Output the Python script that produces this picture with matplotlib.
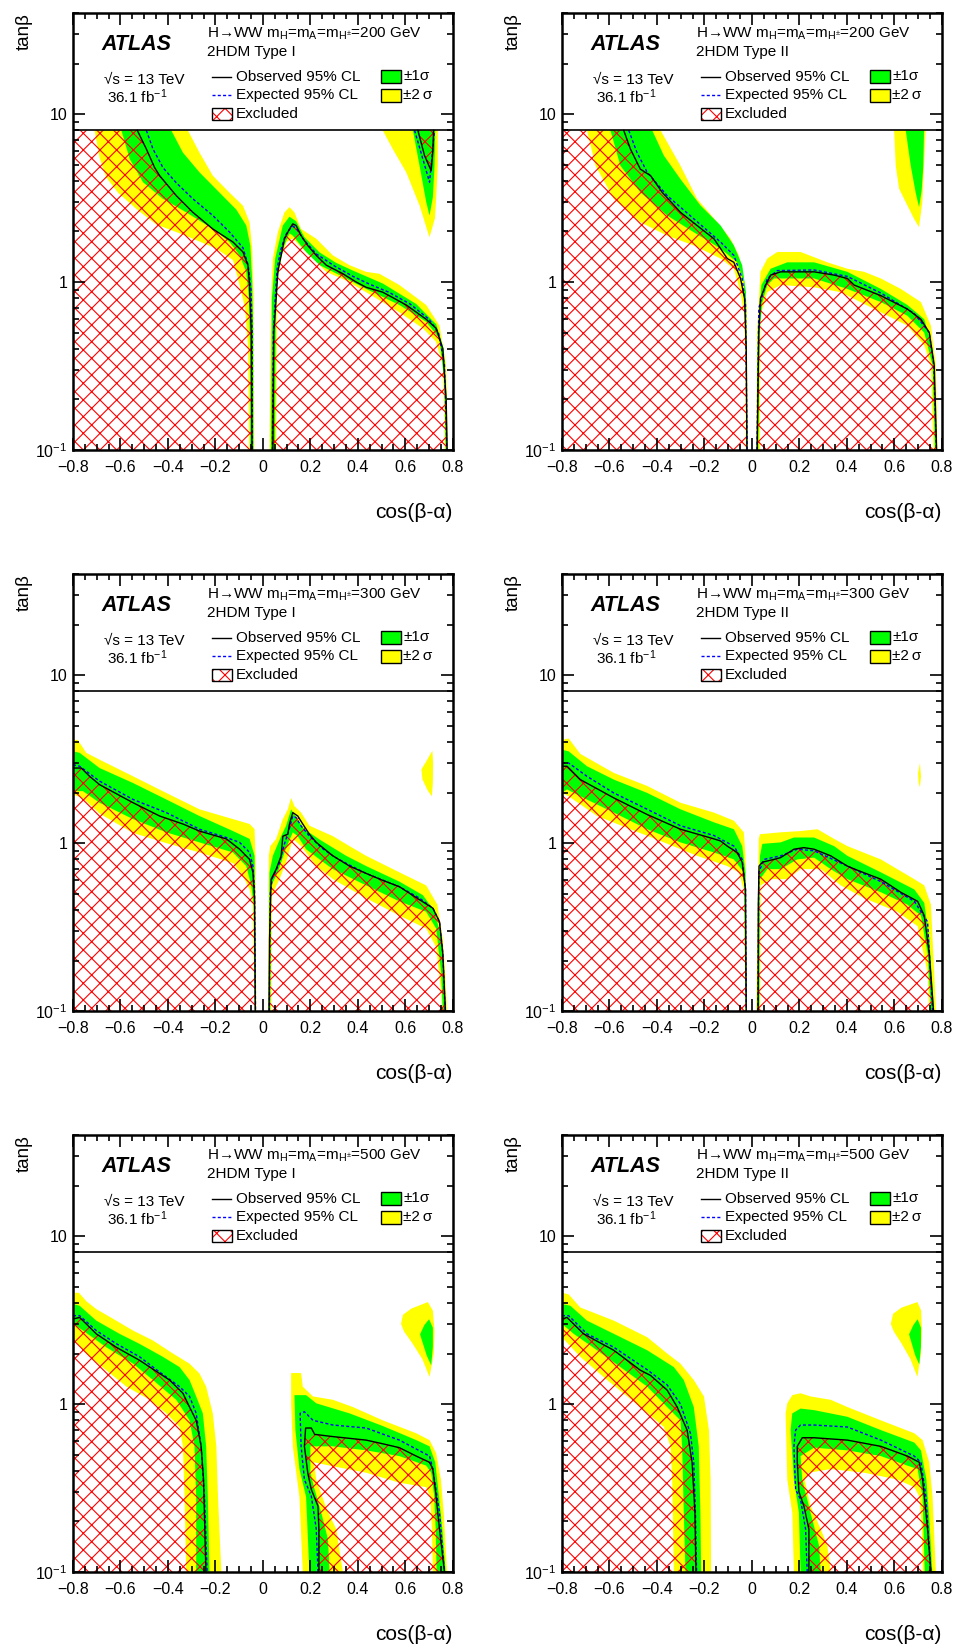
import numpy as np
import matplotlib
matplotlib.use('Agg')
import matplotlib.pyplot as plt
from matplotlib.patches import Rectangle
from matplotlib.lines import Line2D
from matplotlib.ticker import MultipleLocator, FixedLocator, LogLocator, FuncFormatter, NullFormatter

plt.rcParams['font.family'] = ['Liberation Sans', 'DejaVu Sans']
plt.rcParams['mathtext.fontset'] = 'custom'
plt.rcParams['mathtext.rm'] = 'Liberation Sans'
plt.rcParams['mathtext.it'] = 'Liberation Sans:italic'
plt.rcParams['mathtext.bf'] = 'Liberation Sans:bold'
plt.rcParams['hatch.linewidth'] = 0.8

# ---- data: boundaries as (cos(b-a), tan b) points ----
# ylo/glo = inner edge of 2sigma/1sigma band, yhi/ghi = outer edge

# 200 GeV, Type I
a_L_ylo = [(-0.709,8),(-0.688,5.5),(-0.660,4.2),(-0.610,3.4),(-0.530,2.7),(-0.449,2.2),(-0.33,1.9),(-0.196,1.58),(-0.126,1.35),(-0.105,1.05),(-0.075,0.7),(-0.062,0.4),(-0.058,0.1)]
a_L_glo = [(-0.596,8),(-0.561,5.4),(-0.505,3.93),(-0.421,3.13),(-0.323,2.6),(-0.211,2.07),(-0.140,1.73),(-0.098,1.44),(-0.070,1.15),(-0.059,0.8),(-0.054,0.4),(-0.053,0.1)]
a_L_obs = [(-0.529,8),(-0.491,6.2),(-0.456,4.8),(-0.435,4.3),(-0.365,3.27),(-0.295,2.6),(-0.211,2.07),(-0.126,1.73),(-0.084,1.51),(-0.063,1.26),(-0.056,0.95),(-0.049,0.5),(-0.046,0.1)]
a_L_exp = [(-0.491,8),(-0.463,6.2),(-0.421,4.8),(-0.365,3.9),(-0.295,3.13),(-0.211,2.49),(-0.140,1.98),(-0.084,1.6),(-0.062,1.26),(-0.050,0.9),(-0.045,0.5),(-0.044,0.1)]
a_L_ghi = [(-0.386,8),(-0.337,5.9),(-0.267,4.5),(-0.182,3.4),(-0.112,2.7),(-0.070,2.17),(-0.053,1.65),(-0.045,1.0),(-0.041,0.5),(-0.040,0.1)]
a_L_yhi = [(-0.316,8),(-0.267,5.9),(-0.211,4.3),(-0.140,3.4),(-0.084,2.85),(-0.056,2.27),(-0.045,1.58),(-0.039,0.8),(-0.036,0.1)]
a_R_yhi = [(0.028,0.1),(0.035,0.8),(0.042,1.38),(0.063,1.98),(0.091,2.6),(0.112,2.79),(0.133,2.6),(0.161,2.07),(0.225,1.81),(0.295,1.44),(0.365,1.26),(0.435,1.15),(0.491,1.12),(0.575,0.96),(0.688,0.73),(0.744,0.55),(0.772,0.32),(0.780,0.1)]
a_R_ghi = [(0.034,0.1),(0.038,0.8),(0.052,1.38),(0.084,2.17),(0.112,2.45),(0.140,2.3),(0.175,1.85),(0.239,1.5),(0.309,1.3),(0.379,1.17),(0.505,0.98),(0.646,0.74),(0.730,0.56),(0.762,0.4),(0.774,0.2),(0.778,0.1)]
a_R_obs = [(0.042,0.1),(0.046,0.5),(0.056,0.8),(0.063,1.15),(0.077,1.44),(0.091,1.81),(0.112,2.07),(0.126,2.22),(0.140,2.17),(0.161,1.89),(0.189,1.65),(0.225,1.44),(0.267,1.26),(0.337,1.12),(0.393,1.0),(0.435,0.93),(0.505,0.87),(0.604,0.73),(0.688,0.6),(0.730,0.53),(0.758,0.4),(0.772,0.2),(0.776,0.1)]
a_R_exp = [(0.040,0.1),(0.044,0.5),(0.052,0.8),(0.060,1.2),(0.075,1.55),(0.095,1.9),(0.115,2.08),(0.128,2.15),(0.145,2.05),(0.170,1.8),(0.225,1.47),(0.300,1.25),(0.380,1.08),(0.450,0.97),(0.530,0.87),(0.620,0.74),(0.700,0.6),(0.740,0.5),(0.765,0.32),(0.775,0.1)]
a_R_glo = [(0.050,0.1),(0.055,0.8),(0.068,1.26),(0.090,1.65),(0.112,1.95),(0.126,1.89),(0.182,1.51),(0.239,1.26),(0.323,1.1),(0.435,0.91),(0.575,0.73),(0.688,0.58),(0.744,0.46),(0.765,0.25),(0.770,0.1)]
a_R_ylo = [(0.056,0.1),(0.060,1.0),(0.080,1.44),(0.100,1.73),(0.126,1.82),(0.154,1.65),(0.211,1.38),(0.267,1.15),(0.351,1.02),(0.435,0.87),(0.575,0.66),(0.674,0.53),(0.730,0.44),(0.758,0.32),(0.767,0.1)]
a_isl_y = [(0.505,8),(0.547,6.2),(0.604,4.5),(0.660,2.86),(0.695,1.98),(0.702,1.85),(0.725,2.4),(0.730,3.13),(0.737,5.0),(0.737,8)]
a_isl_g = [(0.632,8),(0.660,4.93),(0.688,3.0),(0.702,2.49),(0.716,3.2),(0.723,4.9),(0.726,8)]
a_isl_obs = [(0.653,8),(0.681,5.66),(0.709,4.6),(0.716,6.0),(0.719,8)]
a_isl_exp = [(0.639,8),(0.674,5.4),(0.702,3.93),(0.712,5.5),(0.723,8)]

# 200 GeV, Type II
b_L_ylo = [(-0.695,8),(-0.659,4.93),(-0.582,3.13),(-0.470,2.27),(-0.357,1.89),(-0.245,1.65),(-0.132,1.38),(-0.076,1.2),(-0.048,0.87),(-0.034,0.66),(-0.027,0.32),(-0.026,0.1)]
b_L_glo = [(-0.596,8),(-0.554,4.93),(-0.470,3.42),(-0.357,2.49),(-0.245,1.98),(-0.132,1.58),(-0.062,1.31),(-0.034,1.0),(-0.025,0.5),(-0.023,0.1)]
b_L_obs = [(-0.540,8),(-0.512,6.2),(-0.470,4.7),(-0.427,4.3),(-0.378,3.42),(-0.301,2.6),(-0.231,2.17),(-0.160,1.81),(-0.104,1.38),(-0.076,1.31),(-0.048,1.05),(-0.031,0.8),(-0.024,0.4),(-0.021,0.1)]
b_L_exp = [(-0.519,8),(-0.484,5.9),(-0.441,4.5),(-0.357,3.27),(-0.245,2.38),(-0.132,1.73),(-0.076,1.44),(-0.041,1.05),(-0.027,0.73),(-0.020,0.1)]
b_L_ghi = [(-0.420,8),(-0.371,5.66),(-0.301,4.1),(-0.217,2.86),(-0.132,2.17),(-0.076,1.65),(-0.041,1.26),(-0.025,0.87),(-0.019,0.1)]
b_L_yhi = [(-0.385,8),(-0.301,4.93),(-0.231,3.13),(-0.146,2.27),(-0.090,1.81),(-0.055,1.44),(-0.034,1.05),(-0.022,0.73),(-0.017,0.1)]
b_R_yhi = [(0.017,0.1),(0.022,0.5),(0.036,1.15),(0.065,1.38),(0.107,1.51),(0.205,1.51),(0.318,1.31),(0.402,1.2),(0.473,1.15),(0.543,1.05),(0.627,0.91),(0.712,0.76),(0.754,0.55),(0.775,0.32),(0.782,0.1)]
b_R_ghi = [(0.020,0.1),(0.025,0.5),(0.040,0.96),(0.079,1.2),(0.149,1.31),(0.262,1.31),(0.402,1.15),(0.543,0.91),(0.655,0.73),(0.726,0.6),(0.761,0.4),(0.780,0.1)]
b_R_obs = [(0.022,0.1),(0.029,0.5),(0.036,0.8),(0.058,0.96),(0.079,1.1),(0.121,1.15),(0.262,1.15),(0.346,1.1),(0.402,1.05),(0.430,0.96),(0.543,0.83),(0.655,0.69),(0.712,0.6),(0.747,0.5),(0.768,0.32),(0.778,0.1)]
b_R_exp = [(0.021,0.1),(0.029,0.7),(0.065,1.05),(0.107,1.17),(0.262,1.18),(0.402,1.08),(0.543,0.86),(0.684,0.65),(0.747,0.5),(0.766,0.32),(0.777,0.1)]
b_R_glo = [(0.027,0.1),(0.032,0.5),(0.044,0.76),(0.065,0.96),(0.093,1.05),(0.262,1.05),(0.402,0.91),(0.543,0.76),(0.655,0.63),(0.726,0.5),(0.761,0.32),(0.771,0.1)]
b_R_ylo = [(0.033,0.1),(0.036,0.63),(0.065,0.87),(0.121,0.96),(0.262,0.93),(0.374,0.87),(0.543,0.66),(0.655,0.55),(0.726,0.42),(0.754,0.32),(0.765,0.1)]
b_isl_y = [(0.599,8),(0.606,4.93),(0.620,3.6),(0.641,3.13),(0.683,2.38),(0.704,2.12),(0.718,3.0),(0.725,4.93),(0.732,8)]
b_isl_g = [(0.648,8),(0.669,4.93),(0.690,3.4),(0.704,2.79),(0.715,3.5),(0.722,4.93),(0.725,8)]

# 300 GeV, Type I
c_L_yhi = [(-0.8,4.12),(-0.78,4.12),(-0.744,3.45),(-0.688,3.14),(-0.547,2.5),(-0.407,1.99),(-0.267,1.59),(-0.126,1.39),(-0.056,1.30),(-0.035,1.21),(-0.031,0.84),(-0.028,0.1)]
c_L_ghi = [(-0.8,3.52),(-0.772,3.45),(-0.688,2.8),(-0.547,2.28),(-0.407,1.82),(-0.267,1.45),(-0.126,1.18),(-0.056,1.06),(-0.035,0.84),(-0.030,0.1)]
c_L_exp = [(-0.8,2.93),(-0.772,2.87),(-0.688,2.34),(-0.547,1.82),(-0.407,1.52),(-0.267,1.21),(-0.154,1.08),(-0.098,1.01),(-0.056,0.88),(-0.042,0.73),(-0.035,0.53),(-0.031,0.1)]
c_L_obs = [(-0.8,2.8),(-0.765,2.8),(-0.730,2.5),(-0.688,2.23),(-0.547,1.74),(-0.435,1.45),(-0.337,1.30),(-0.267,1.18),(-0.154,1.06),(-0.098,0.92),(-0.056,0.8),(-0.042,0.67),(-0.035,0.47),(-0.032,0.1)]
c_L_glo = [(-0.8,2.04),(-0.758,2.04),(-0.688,1.74),(-0.547,1.39),(-0.407,1.16),(-0.267,1.01),(-0.126,0.88),(-0.070,0.73),(-0.049,0.56),(-0.039,0.43),(-0.034,0.1)]
c_L_ylo = [(-0.8,1.95),(-0.758,1.85),(-0.688,1.5),(-0.547,1.15),(-0.407,1.0),(-0.267,0.88),(-0.126,0.76),(-0.084,0.64),(-0.056,0.53),(-0.042,0.43),(-0.036,0.1)]
c_R_yhi = [(0.021,0.1),(0.025,0.84),(0.031,0.96),(0.056,1.06),(0.084,1.39),(0.105,1.59),(0.119,1.86),(0.133,1.66),(0.161,1.52),(0.196,1.27),(0.295,1.1),(0.365,0.96),(0.435,0.84),(0.575,0.67),(0.688,0.56),(0.735,0.43),(0.758,0.27),(0.768,0.17),(0.776,0.1)]
c_R_ghi = [(0.024,0.1),(0.028,0.67),(0.042,0.84),(0.077,1.1),(0.098,1.27),(0.119,1.59),(0.140,1.42),(0.175,1.21),(0.239,1.05),(0.351,0.84),(0.435,0.73),(0.575,0.59),(0.674,0.49),(0.724,0.39),(0.752,0.27),(0.771,0.1)]
c_R_obs = [(0.026,0.1),(0.028,0.27),(0.035,0.61),(0.056,0.70),(0.077,0.84),(0.084,1.1),(0.105,1.13),(0.112,1.3),(0.126,1.52),(0.147,1.45),(0.168,1.30),(0.196,1.13),(0.225,1.01),(0.295,0.84),(0.365,0.73),(0.435,0.66),(0.505,0.6),(0.575,0.55),(0.660,0.46),(0.716,0.41),(0.744,0.34),(0.758,0.22),(0.769,0.1)]
c_R_exp = [(0.027,0.1),(0.031,0.5),(0.040,0.62),(0.070,0.76),(0.090,0.98),(0.110,1.2),(0.126,1.45),(0.140,1.42),(0.160,1.27),(0.196,1.1),(0.250,0.93),(0.300,0.83),(0.365,0.74),(0.435,0.66),(0.575,0.55),(0.660,0.47),(0.716,0.41),(0.744,0.34),(0.758,0.22),(0.768,0.1)]
c_R_glo = [(0.031,0.1),(0.035,0.56),(0.063,0.67),(0.091,0.88),(0.126,1.16),(0.147,1.1),(0.182,0.92),(0.239,0.8),(0.295,0.70),(0.435,0.56),(0.575,0.45),(0.688,0.39),(0.730,0.31),(0.751,0.17),(0.758,0.1)]
c_R_ylo = [(0.035,0.1),(0.039,0.49),(0.070,0.61),(0.098,0.77),(0.126,1.06),(0.161,0.96),(0.225,0.73),(0.295,0.61),(0.435,0.47),(0.575,0.37),(0.688,0.31),(0.730,0.24),(0.751,0.13),(0.755,0.1)]
c_isl_y = [(0.714,3.55),(0.690,3.1),(0.668,2.75),(0.672,2.4),(0.695,2.05),(0.712,1.9),(0.716,2.3),(0.717,3.0)]

# 300 GeV, Type II
d_L_yhi = [(-0.8,4.12),(-0.772,4.2),(-0.723,3.4),(-0.582,2.62),(-0.441,2.19),(-0.301,1.74),(-0.160,1.52),(-0.076,1.36),(-0.034,1.16),(-0.027,0.84),(-0.022,0.1)]
d_L_ghi = [(-0.8,3.6),(-0.772,3.52),(-0.695,2.87),(-0.582,2.39),(-0.441,1.99),(-0.301,1.59),(-0.160,1.33),(-0.076,1.21),(-0.041,0.96),(-0.027,0.67),(-0.023,0.1)]
d_L_exp = [(-0.8,3.0),(-0.772,3.0),(-0.695,2.5),(-0.582,1.99),(-0.441,1.59),(-0.301,1.27),(-0.160,1.11),(-0.076,0.96),(-0.041,0.8),(-0.027,0.53),(-0.024,0.1)]
d_L_obs = [(-0.8,2.87),(-0.779,2.87),(-0.723,2.39),(-0.582,1.86),(-0.441,1.48),(-0.301,1.21),(-0.160,1.06),(-0.132,1.03),(-0.104,0.96),(-0.062,0.88),(-0.041,0.77),(-0.027,0.53),(-0.024,0.1)]
d_L_glo = [(-0.8,1.99),(-0.779,2.09),(-0.723,1.9),(-0.582,1.52),(-0.441,1.21),(-0.301,1.01),(-0.160,0.88),(-0.076,0.80),(-0.034,0.67),(-0.026,0.1)]
d_L_ylo = [(-0.8,1.99),(-0.772,1.9),(-0.652,1.45),(-0.512,1.21),(-0.371,1.01),(-0.231,0.84),(-0.104,0.73),(-0.055,0.67),(-0.034,0.53),(-0.028,0.1)]
d_R_yhi = [(0.018,0.1),(0.029,1.06),(0.034,1.13),(0.121,1.16),(0.205,1.18),(0.276,1.21),(0.346,1.06),(0.402,0.96),(0.543,0.8),(0.684,0.61),(0.726,0.56),(0.754,0.43),(0.768,0.17),(0.775,0.1)]
d_R_ghi = [(0.023,0.1),(0.034,0.84),(0.044,0.99),(0.121,1.01),(0.177,1.08),(0.262,1.08),(0.346,0.96),(0.402,0.84),(0.543,0.67),(0.684,0.53),(0.726,0.44),(0.747,0.27),(0.768,0.1)]
d_R_obs = [(0.026,0.1),(0.027,0.43),(0.030,0.73),(0.044,0.77),(0.093,0.8),(0.121,0.82),(0.177,0.92),(0.219,0.94),(0.262,0.92),(0.332,0.84),(0.402,0.73),(0.444,0.69),(0.543,0.61),(0.627,0.51),(0.698,0.45),(0.726,0.37),(0.747,0.22),(0.765,0.1)]
d_R_exp = [(0.025,0.1),(0.029,0.67),(0.051,0.8),(0.121,0.84),(0.191,0.92),(0.262,0.9),(0.402,0.73),(0.543,0.59),(0.684,0.45),(0.740,0.34),(0.761,0.1)]
d_R_glo = [(0.031,0.1),(0.034,0.61),(0.065,0.70),(0.121,0.70),(0.191,0.8),(0.262,0.82),(0.332,0.70),(0.402,0.61),(0.543,0.51),(0.655,0.43),(0.712,0.37),(0.740,0.22),(0.754,0.1)]
d_R_ylo = [(0.035,0.1),(0.037,0.56),(0.079,0.61),(0.149,0.61),(0.205,0.70),(0.290,0.70),(0.374,0.56),(0.473,0.47),(0.613,0.39),(0.698,0.32),(0.740,0.17),(0.747,0.1)]
d_isl_y = [(0.708,3.0),(0.700,2.6),(0.702,2.3),(0.708,2.15),(0.712,2.5)]

# 500 GeV, Type I
e_L_yhi = [(-0.8,4.6),(-0.775,4.6),(-0.744,4.1),(-0.702,3.68),(-0.618,3.14),(-0.547,2.74),(-0.463,2.39),(-0.379,2.0),(-0.309,1.74),(-0.267,1.52),(-0.239,1.27),(-0.211,0.88),(-0.196,0.56),(-0.189,0.28),(-0.175,0.1)]
e_L_ghi = [(-0.8,3.94),(-0.772,3.85),(-0.702,3.14),(-0.604,2.62),(-0.519,2.28),(-0.421,1.91),(-0.351,1.66),(-0.309,1.39),(-0.281,1.11),(-0.253,0.88),(-0.239,0.56),(-0.232,0.28),(-0.225,0.1)]
e_L_exp = [(-0.8,3.36),(-0.772,3.36),(-0.702,2.74),(-0.618,2.29),(-0.519,1.91),(-0.435,1.55),(-0.351,1.27),(-0.309,1.11),(-0.281,0.88),(-0.260,0.56),(-0.246,0.28),(-0.235,0.1)]
e_L_obs = [(-0.8,3.21),(-0.772,3.28),(-0.744,3.0),(-0.702,2.62),(-0.618,2.18),(-0.519,1.82),(-0.435,1.52),(-0.393,1.39),(-0.337,1.16),(-0.309,0.96),(-0.281,0.80),(-0.260,0.56),(-0.250,0.355),(-0.240,0.1)]
e_L_glo = [(-0.8,3.0),(-0.758,2.74),(-0.660,2.18),(-0.547,1.74),(-0.463,1.39),(-0.365,1.06),(-0.309,0.80),(-0.288,0.56),(-0.281,0.28),(-0.281,0.1)]
e_L_ylo = [(-0.8,2.5),(-0.779,2.28),(-0.744,2.0),(-0.660,1.59),(-0.575,1.27),(-0.477,1.06),(-0.407,0.88),(-0.351,0.73),(-0.337,0.56),(-0.330,0.28),(-0.323,0.1)]
e_R_yhi = [(0.168,0.1),(0.154,0.28),(0.126,0.56),(0.119,1.0),(0.119,1.53),(0.161,1.53),(0.168,1.27),(0.211,1.11),(0.295,1.06),(0.379,0.96),(0.505,0.80),(0.646,0.67),(0.702,0.61),(0.730,0.51),(0.750,0.355),(0.762,0.225),(0.776,0.1)]
e_R_ghi = [(0.196,0.1),(0.182,0.28),(0.154,0.41),(0.137,0.70),(0.133,1.13),(0.182,1.13),(0.225,1.01),(0.365,0.88),(0.505,0.74),(0.646,0.61),(0.702,0.56),(0.726,0.45),(0.742,0.28),(0.756,0.18),(0.770,0.1)]
e_R_obs = [(0.236,0.1),(0.236,0.18),(0.232,0.247),(0.204,0.31),(0.189,0.39),(0.175,0.56),(0.180,0.72),(0.204,0.72),(0.218,0.66),(0.295,0.64),(0.435,0.61),(0.505,0.58),(0.575,0.55),(0.646,0.49),(0.702,0.45),(0.716,0.41),(0.730,0.28),(0.744,0.18),(0.765,0.1)]
e_R_exp = [(0.232,0.1),(0.225,0.18),(0.204,0.283),(0.175,0.355),(0.161,0.56),(0.157,0.88),(0.175,0.90),(0.211,0.80),(0.295,0.75),(0.435,0.72),(0.575,0.61),(0.702,0.49),(0.716,0.41),(0.744,0.225),(0.765,0.1)]
e_R_glo = [(0.281,0.1),(0.274,0.157),(0.246,0.225),(0.218,0.31),(0.200,0.39),(0.200,0.56),(0.295,0.56),(0.435,0.53),(0.575,0.49),(0.688,0.43),(0.709,0.39),(0.722,0.28),(0.728,0.18),(0.732,0.1)]
e_R_ylo = [(0.337,0.1),(0.309,0.18),(0.267,0.24),(0.225,0.355),(0.215,0.45),(0.281,0.43),(0.435,0.39),(0.575,0.34),(0.688,0.32),(0.705,0.28),(0.712,0.18),(0.716,0.1)]
e_isl_y = [(0.582,3.0),(0.590,3.4),(0.625,3.7),(0.695,4.05),(0.716,3.6),(0.723,2.74),(0.720,2.0),(0.702,1.45),(0.672,1.85),(0.630,2.3),(0.595,2.7)]
e_isl_g = [(0.662,2.6),(0.680,2.95),(0.700,3.2),(0.716,2.85),(0.716,2.2),(0.709,1.7),(0.690,1.95)]

# 500 GeV, Type II
f_L_yhi = [(-0.8,4.6),(-0.772,4.5),(-0.723,3.76),(-0.582,3.14),(-0.441,2.5),(-0.357,2.0),(-0.301,1.74),(-0.245,1.39),(-0.202,1.11),(-0.181,0.70),(-0.174,0.355),(-0.172,0.1)]
f_L_ghi = [(-0.8,3.94),(-0.765,3.85),(-0.695,3.14),(-0.582,2.62),(-0.441,2.09),(-0.329,1.66),(-0.287,1.39),(-0.245,0.96),(-0.224,0.56),(-0.217,0.225),(-0.214,0.1)]
f_L_exp = [(-0.8,3.36),(-0.772,3.36),(-0.695,2.62),(-0.582,2.18),(-0.441,1.6),(-0.357,1.3),(-0.301,1.0),(-0.259,0.67),(-0.245,0.45),(-0.238,0.225),(-0.233,0.1)]
f_L_obs = [(-0.8,3.21),(-0.779,3.28),(-0.709,2.62),(-0.582,2.09),(-0.470,1.59),(-0.427,1.48),(-0.357,1.21),(-0.315,0.96),(-0.273,0.70),(-0.252,0.45),(-0.240,0.225),(-0.236,0.1)]
f_L_glo = [(-0.8,3.0),(-0.751,2.62),(-0.652,2.09),(-0.554,1.66),(-0.441,1.27),(-0.357,0.96),(-0.301,0.80),(-0.294,0.56),(-0.287,0.225),(-0.280,0.1)]
f_L_ylo = [(-0.8,2.5),(-0.723,1.91),(-0.610,1.39),(-0.470,0.96),(-0.371,0.73),(-0.343,0.56),(-0.336,0.355),(-0.329,0.1)]
f_R_yhi = [(0.177,0.1),(0.170,0.225),(0.149,0.355),(0.142,0.88),(0.149,1.01),(0.170,1.13),(0.205,1.16),(0.247,1.11),(0.332,1.06),(0.402,0.96),(0.543,0.80),(0.684,0.67),(0.719,0.61),(0.747,0.45),(0.761,0.28),(0.775,0.1)]
f_R_ghi = [(0.205,0.1),(0.198,0.225),(0.177,0.355),(0.163,0.70),(0.170,0.88),(0.205,0.94),(0.262,0.92),(0.402,0.84),(0.543,0.70),(0.684,0.59),(0.712,0.53),(0.735,0.355),(0.748,0.2),(0.760,0.1)]
f_R_obs = [(0.240,0.1),(0.240,0.18),(0.219,0.247),(0.198,0.3),(0.191,0.45),(0.191,0.56),(0.212,0.63),(0.262,0.63),(0.402,0.61),(0.543,0.56),(0.655,0.49),(0.705,0.45),(0.719,0.355),(0.740,0.18),(0.754,0.1)]
f_R_exp = [(0.233,0.1),(0.226,0.18),(0.205,0.27),(0.184,0.31),(0.177,0.56),(0.184,0.70),(0.205,0.75),(0.262,0.75),(0.402,0.73),(0.543,0.61),(0.684,0.49),(0.712,0.45),(0.733,0.28),(0.754,0.1)]
f_R_glo = [(0.290,0.1),(0.283,0.143),(0.247,0.225),(0.212,0.355),(0.205,0.49),(0.262,0.55),(0.402,0.53),(0.543,0.49),(0.655,0.43),(0.698,0.41),(0.719,0.28),(0.728,0.1)]
f_R_ylo = [(0.332,0.1),(0.318,0.143),(0.290,0.18),(0.247,0.247),(0.222,0.355),(0.240,0.39),(0.332,0.41),(0.473,0.39),(0.613,0.355),(0.684,0.32),(0.706,0.28),(0.716,0.18),(0.720,0.1)]
f_isl_y = [(0.585,3.0),(0.595,3.45),(0.630,3.75),(0.697,4.05),(0.713,3.6),(0.716,2.74),(0.712,2.0),(0.697,1.45),(0.668,1.85),(0.630,2.3),(0.598,2.7)]
f_isl_g = [(0.662,2.6),(0.680,2.95),(0.698,3.2),(0.712,2.85),(0.712,2.2),(0.705,1.72),(0.688,1.95)]

masses = [200, 200, 300, 300, 500, 500]
types = ['I', 'II', 'I', 'II', 'I', 'II']

YELLOW = '#ffff00'
GREEN = '#00ff00'
HATCH = 'xx'


def arr(pts):
    a = np.array(pts, dtype=float)
    return a[:, 0], a[:, 1]


def band(ax, edge1, edge2, color):
    x1, y1 = arr(edge1)
    x2, y2 = arr(edge2)
    ax.fill(np.r_[x1, x2[::-1]], np.r_[y1, y2[::-1]], color=color, lw=0, zorder=1)


def hatch(ax, x, y):
    ax.fill(x, y, facecolor='none', edgecolor='red', hatch=HATCH, lw=0, zorder=1.2)


def lines(ax, obs, exp):
    ex, ey = arr(exp)
    ax.plot(ex, ey, color='blue', lw=1.0, ls=(0, (2.2, 1.6)), zorder=1.3)
    ox, oy = arr(obs)
    ax.plot(ox, oy, color='black', lw=1.0, zorder=1.4)


def lobe_left(ax, ylo, glo, obs, exp, ghi, yhi):
    band(ax, ylo, yhi, YELLOW)
    band(ax, glo, ghi, GREEN)
    ox, oy = arr(obs)
    hatch(ax, np.r_[-0.8, -0.8, ox, ox[-1]], np.r_[0.1, oy[0], oy, 0.1])
    lines(ax, obs, exp)


def lobe_right(ax, yhi, ghi, obs, exp, glo, ylo):
    band(ax, yhi, ylo, YELLOW)
    band(ax, ghi, glo, GREEN)
    ox, oy = arr(obs)
    hatch(ax, ox, oy)
    lines(ax, obs, exp)


def island(ax, yel, grn=None):
    x, y = arr(yel)
    ax.fill(x, y, color=YELLOW, lw=0, zorder=1)
    if grn is not None:
        x, y = arr(grn)
        ax.fill(x, y, color=GREEN, lw=0, zorder=1.1)


def ytick(v, pos):
    if v < 0.5:
        return '10$^{\\mathregular{-1}}$'
    return '%d' % round(v)


def xtick(v, pos):
    if abs(v) < 1e-9:
        return '0'
    return ('%.1f' % v).replace('-', '\u2212')


def style(ax, mass, typ):
    ax.set_xlim(-0.8, 0.8)
    ax.set_yscale('log')
    ax.set_ylim(0.1, 40)
    ax.set_axisbelow(False)
    ax.xaxis.set_major_locator(MultipleLocator(0.2))
    ax.xaxis.set_minor_locator(MultipleLocator(0.05))
    ax.xaxis.set_major_formatter(FuncFormatter(xtick))
    ax.yaxis.set_major_locator(FixedLocator([0.1, 1, 10]))
    ax.yaxis.set_minor_locator(LogLocator(base=10, subs=np.arange(2, 10)))
    ax.yaxis.set_major_formatter(FuncFormatter(ytick))
    ax.yaxis.set_minor_formatter(NullFormatter())
    ax.tick_params(which='both', direction='in', top=True, right=True, width=1.2, labelsize=11.5)
    ax.tick_params(which='major', length=8.5)
    ax.tick_params(which='minor', length=4.3)
    ax.tick_params(axis='x', pad=7)
    ax.tick_params(axis='y', pad=4)
    for s in ax.spines.values():
        s.set_linewidth(1.8)

    # box line for the legend area
    ax.axhline(8, color='black', lw=1.2, zorder=2)

    ax.text(-0.128, 1.0, 'tan\u03b2', rotation=90, ha='center', va='top',
            fontsize=13.5, transform=ax.transAxes)
    ax.text(1.0, -0.142, 'cos(\u03b2-\u03b1)', ha='right', va='center',
            fontsize=15, transform=ax.transAxes)

    t = ax.transAxes
    ax.text(0.076, 0.927, 'ATLAS', fontsize=15.5, weight='bold', style='italic',
            va='center', transform=t, zorder=3)
    ax.text(0.353, 0.952, 'H\u2192WW m$_{\\mathregular{H}}$=m$_{\\mathregular{A}}$=m$_{\\mathregular{H^{\\pm}}}$=%d GeV' % mass,
            fontsize=11, va='center', transform=t, zorder=3)
    ax.text(0.353, 0.911, '2HDM Type ' + typ, fontsize=11, va='center', transform=t, zorder=3)
    ax.text(0.082, 0.847, '\u221as = 13 TeV', fontsize=11, va='center', transform=t, zorder=3)
    ax.text(0.089, 0.808, '36.1 fb$^{\\mathregular{-1}}$', fontsize=11, va='center', transform=t, zorder=3)

    ax.add_line(Line2D([0.366, 0.416], [0.854, 0.854], color='black', lw=1.0, transform=t, zorder=3))
    ax.text(0.429, 0.854, 'Observed 95% CL', fontsize=11, va='center', transform=t, zorder=3)
    ax.add_line(Line2D([0.366, 0.416], [0.812, 0.812], color='blue', lw=1.0, ls=(0, (2.2, 1.6)),
                       transform=t, zorder=3))
    ax.text(0.429, 0.812, 'Expected 95% CL', fontsize=11, va='center', transform=t, zorder=3)
    ax.add_patch(Rectangle((0.366, 0.755), 0.052, 0.028, facecolor='white', edgecolor='red',
                           hatch=HATCH, lw=0, transform=t, zorder=3))
    ax.add_patch(Rectangle((0.366, 0.755), 0.052, 0.028, facecolor='none', edgecolor='black',
                           lw=1.0, transform=t, zorder=3))
    ax.text(0.429, 0.769, 'Excluded', fontsize=11, va='center', transform=t, zorder=3)

    ax.add_patch(Rectangle((0.811, 0.840), 0.052, 0.030, facecolor=GREEN, edgecolor='black',
                           lw=1.0, transform=t, zorder=3))
    ax.text(0.870, 0.855, '\u00b11\u03c3', fontsize=11, va='center', transform=t, zorder=3)
    ax.add_patch(Rectangle((0.811, 0.797), 0.052, 0.030, facecolor=YELLOW, edgecolor='black',
                           lw=1.0, transform=t, zorder=3))
    ax.text(0.870, 0.812, '\u00b12\u2009\u03c3', fontsize=11, va='center', transform=t, zorder=3)


fig = plt.figure(figsize=(9.64, 16.44), dpi=100)
lefts = [0.0757, 0.583]
bottoms = [0.7263, 0.385, 0.0438]
axes = []
for r in range(3):
    for c in range(2):
        axes.append(fig.add_axes([lefts[c], bottoms[r], 0.394, 0.2658]))

# 200 GeV
lobe_left(axes[0], a_L_ylo, a_L_glo, a_L_obs, a_L_exp, a_L_ghi, a_L_yhi)
lobe_right(axes[0], a_R_yhi, a_R_ghi, a_R_obs, a_R_exp, a_R_glo, a_R_ylo)
island(axes[0], a_isl_y, a_isl_g)
ix, iy = arr(a_isl_obs)
hatch(axes[0], ix, iy)
lines(axes[0], a_isl_obs, a_isl_exp)

lobe_left(axes[1], b_L_ylo, b_L_glo, b_L_obs, b_L_exp, b_L_ghi, b_L_yhi)
lobe_right(axes[1], b_R_yhi, b_R_ghi, b_R_obs, b_R_exp, b_R_glo, b_R_ylo)
island(axes[1], b_isl_y, b_isl_g)

# 300 GeV
lobe_left(axes[2], c_L_ylo, c_L_glo, c_L_obs, c_L_exp, c_L_ghi, c_L_yhi)
lobe_right(axes[2], c_R_yhi, c_R_ghi, c_R_obs, c_R_exp, c_R_glo, c_R_ylo)
island(axes[2], c_isl_y)

lobe_left(axes[3], d_L_ylo, d_L_glo, d_L_obs, d_L_exp, d_L_ghi, d_L_yhi)
lobe_right(axes[3], d_R_yhi, d_R_ghi, d_R_obs, d_R_exp, d_R_glo, d_R_ylo)
island(axes[3], d_isl_y)

# 500 GeV
lobe_left(axes[4], e_L_ylo, e_L_glo, e_L_obs, e_L_exp, e_L_ghi, e_L_yhi)
lobe_right(axes[4], e_R_yhi, e_R_ghi, e_R_obs, e_R_exp, e_R_glo, e_R_ylo)
island(axes[4], e_isl_y, e_isl_g)

lobe_left(axes[5], f_L_ylo, f_L_glo, f_L_obs, f_L_exp, f_L_ghi, f_L_yhi)
lobe_right(axes[5], f_R_yhi, f_R_ghi, f_R_obs, f_R_exp, f_R_glo, f_R_ylo)
island(axes[5], f_isl_y, f_isl_g)

for ax, m, t in zip(axes, masses, types):
    style(ax, m, t)

fig.savefig('out.png', dpi=100, facecolor='white')
